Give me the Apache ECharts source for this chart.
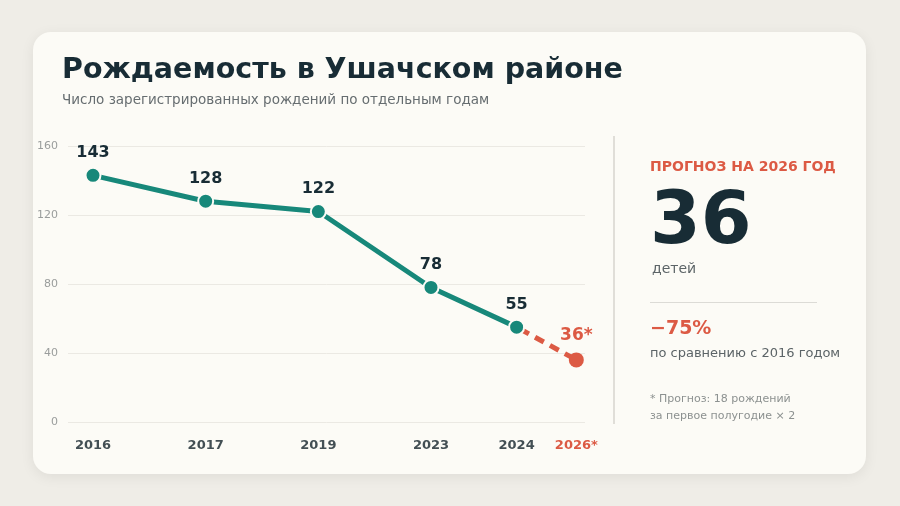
<!DOCTYPE html>
<html>
<head>
<meta charset="utf-8">
<script src="https://cdn.jsdelivr.net/npm/echarts@6/dist/echarts.min.js"></script>
<style>
  html, body { margin: 0; padding: 0; background: #efede7; }
  #chart { width: 900px; height: 506px; }
</style>
</head>
<body>
<div id="chart"></div>
<script>
// данные
const years = ['2016', '2017', '2019', '2023', '2024', '2026*'];
const births = [143, 128, 122, 78, 55];
const forecast = 36;
// положение годов на оси (как на картинке, шаг неравномерный)
const xPos = [0, 1, 2, 3, 3.76, 4.29];
const yTicks = [0, 40, 80, 120, 160];

const FONT = '"DejaVu Sans", sans-serif';
const TEAL = '#17887a';
const RED = '#dc5a44';
const DARK = '#182c35';
const CARD = '#fcfbf6';

const chart = echarts.init(document.getElementById('chart'));

const mainData = births.map((v, i) => [xPos[i], v]);
const last = births.length - 1;
const forecastData = [
  { value: [xPos[last], births[last]], symbol: 'none', label: { show: false } },
  { value: [xPos[last + 1], forecast] }
];

let option = {
  backgroundColor: '#efede7',
  textStyle: { fontFamily: FONT },
  title: [
    {
      text: 'Рождаемость в Ушачском районе',
      left: 62, top: 56, padding: 0,
      textStyle: { fontFamily: FONT, fontSize: 28.5, fontWeight: 'bold', color: DARK }
    },
    {
      text: 'Число зарегистрированных рождений по отдельным годам',
      left: 62, top: 93, padding: 0,
      textStyle: { fontFamily: FONT, fontSize: 13.5, fontWeight: 'normal', color: '#666d70' }
    }
  ],
  grid: { left: 68, right: 315, top: 146, bottom: 84 },
  xAxis: {
    type: 'value',
    min: -0.222,
    max: 4.367,
    axisLine: { show: false },
    axisTick: { show: false },
    splitLine: { show: false },
    axisLabel: {
      customValues: xPos,
      margin: 17,
      fontFamily: FONT,
      fontSize: 13,
      fontWeight: 'bold',
      color: '#434f54',
      formatter(value) {
        const i = xPos.indexOf(value);
        if (i < 0) return '';
        return i === years.length - 1 ? '{f|' + years[i] + '}' : years[i];
      },
      rich: {
        f: { fontFamily: FONT, fontSize: 13, fontWeight: 'bold', color: RED }
      }
    }
  },
  yAxis: {
    type: 'value',
    min: yTicks[0],
    max: yTicks[yTicks.length - 1],
    interval: 40,
    axisLine: { show: false },
    axisTick: { show: false },
    axisLabel: { margin: 10, fontFamily: FONT, fontSize: 11, color: '#9a9d9c' },
    splitLine: { lineStyle: { color: '#ebe9e3', width: 1 } }
  },
  series: [
    {
      name: 'Прогноз',
      type: 'line',
      data: forecastData,
      z: 2,
      symbol: 'circle',
      symbolSize: 15,
      itemStyle: { color: RED },
      lineStyle: { color: RED, width: 5, type: [10, 7], dashOffset: -4 },
      label: {
        show: true,
        position: 'top',
        distance: 8,
        fontFamily: FONT, fontSize: 17, fontWeight: 'bold', color: RED,
        formatter: p => p.value[1] + '*'
      }
    },
    {
      name: 'Рождения',
      type: 'line',
      data: mainData,
      z: 3,
      symbol: 'circle',
      symbolSize: 15,
      itemStyle: { color: TEAL, borderColor: CARD, borderWidth: 2 },
      lineStyle: { color: TEAL, width: 5 },
      label: {
        show: true,
        position: 'top',
        distance: 6,
        fontFamily: FONT, fontSize: 16, fontWeight: 'bold', color: DARK,
        formatter: p => p.value[1]
      }
    }
  ],
  graphic: [
    {
      type: 'rect', z: -10, silent: true,
      shape: { x: 33, y: 32, width: 833, height: 442, r: 18 },
      style: { fill: CARD, shadowBlur: 14, shadowColor: 'rgba(0,0,0,0.07)', shadowOffsetY: 3 }
    },
    {
      type: 'rect', silent: true,
      shape: { x: 613, y: 136, width: 2, height: 288 },
      style: { fill: '#e0ded8' }
    },
    {
      type: 'text', left: 650, top: 160,
      style: { text: 'ПРОГНОЗ НА 2026 ГОД', font: 'bold 14px ' + FONT, fill: RED }
    },
    {
      type: 'text', left: 650, top: 188,
      style: { text: String(forecast), font: 'bold 73px ' + FONT, fill: DARK }
    },
    {
      type: 'text', left: 652, top: 262,
      style: { text: 'детей', font: '14px ' + FONT, fill: '#5c6467' }
    },
    {
      type: 'rect', silent: true,
      shape: { x: 650, y: 302, width: 167, height: 1 },
      style: { fill: '#dcdbd6' }
    },
    {
      type: 'text', left: 650, top: 320,
      style: { text: '−' + Math.round((1 - forecast / births[0]) * 100) + '%', font: 'bold 19px ' + FONT, fill: RED }
    },
    {
      type: 'text', left: 650, top: 347,
      style: { text: 'по сравнению с 2016 годом', font: '13px ' + FONT, fill: '#5c6467' }
    },
    {
      type: 'text', left: 650, top: 391,
      style: { text: '* Прогноз: 18 рождений\nза первое полугодие × 2', font: '11px ' + FONT, fill: '#8c9190', lineHeight: 17 }
    }
  ]
};

chart.setOption(option);
</script>
</body>
</html>
